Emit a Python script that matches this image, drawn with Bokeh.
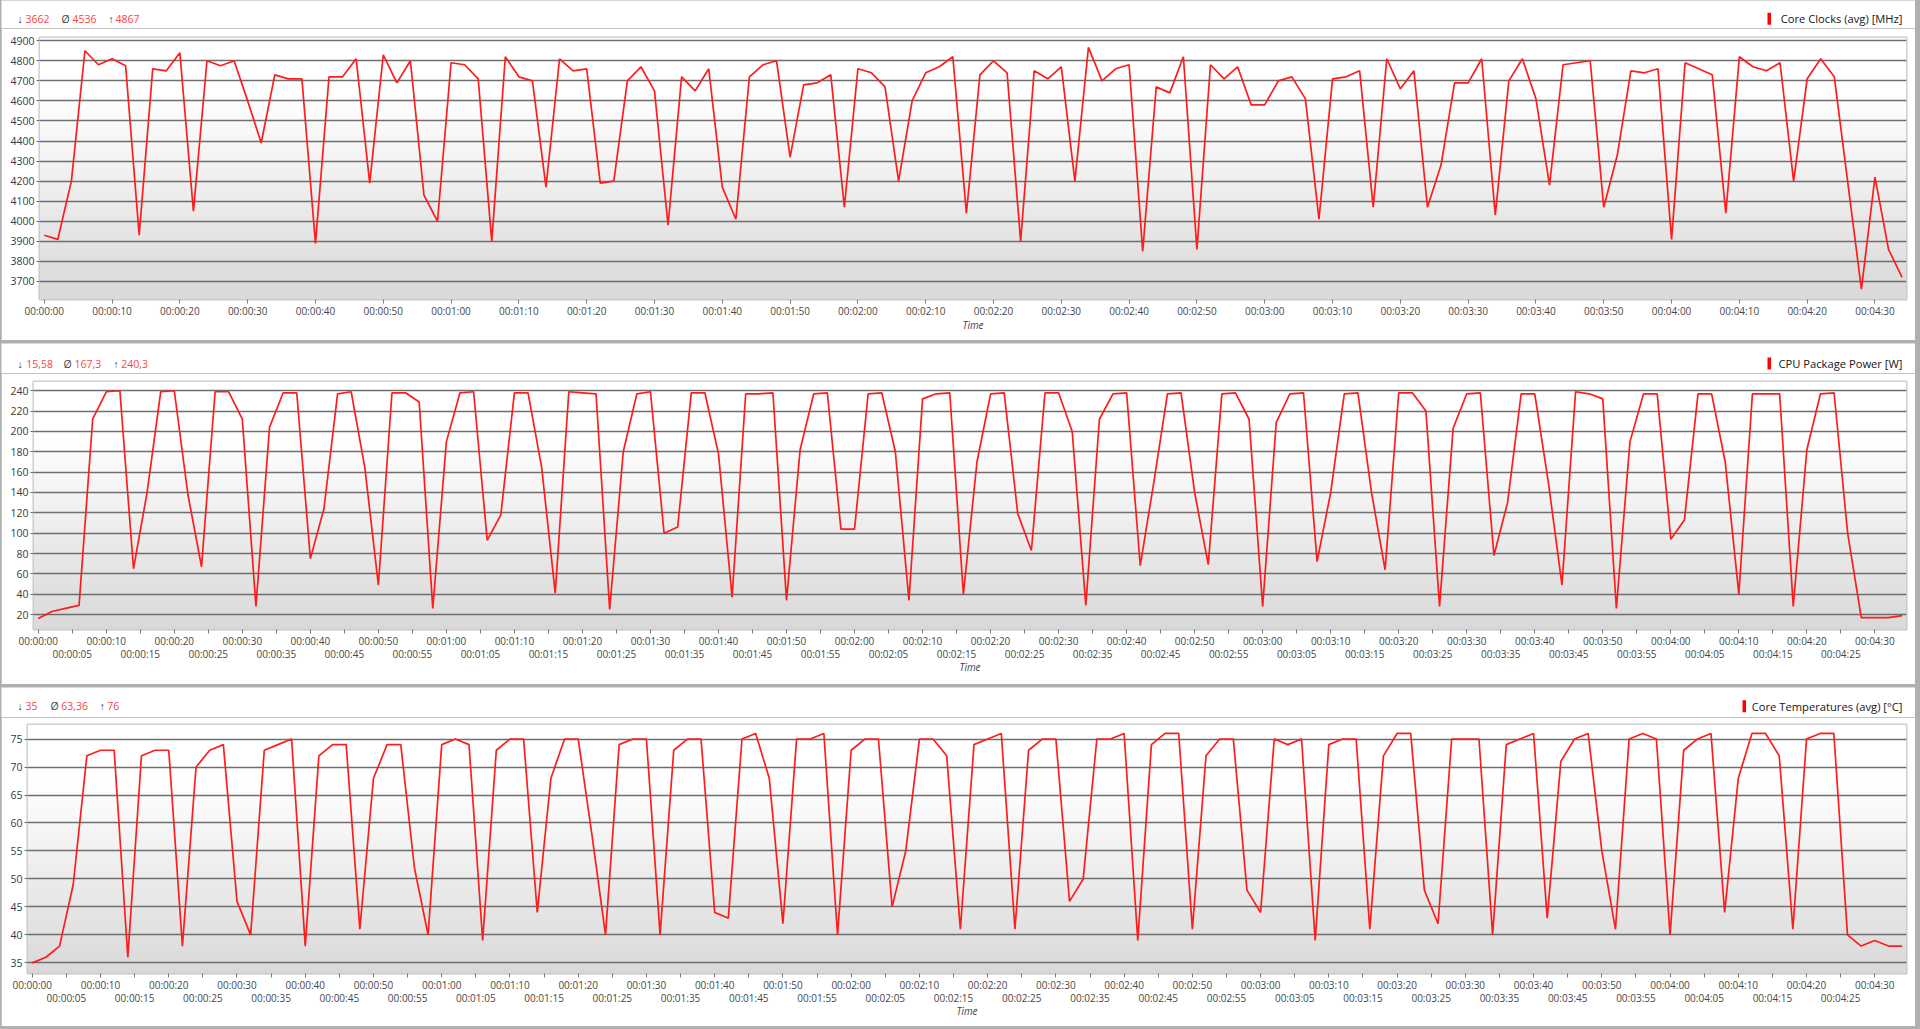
import numpy as np
from bokeh.plotting import figure
from bokeh.models import Range1d, FixedTicker, LinearAxis, Spacer
from bokeh.layouts import column, row
from bokeh.core.properties import value
from bokeh.embed import file_html
from bokeh.resources import INLINE

# ---------------- data ----------------
time_s = list(range(0, 276, 2))

core_clock_mhz = [
    3930, 3910, 4200, 4850, 4780, 4810, 4775, 3930, 4760, 4750,
    4840, 4050, 4800, 4775, 4800, 4600, 4390, 4730, 4710, 4710,
    3890, 4720, 4720, 4810, 4190, 4830, 4690, 4800, 4130, 4000,
    4790, 4780, 4710, 3900, 4820, 4720, 4700, 4170, 4810, 4750,
    4760, 4190, 4200, 4700, 4770, 4650, 3980, 4720, 4650, 4760,
    4170, 4010, 4720, 4780, 4800, 4320, 4680, 4690, 4730, 4070,
    4760, 4740, 4670, 4200, 4600, 4740, 4770, 4820, 4040, 4730,
    4800, 4740, 3900, 4750, 4710, 4770, 4200, 4867, 4700, 4760,
    4780, 3850, 4670, 4640, 4820, 3860, 4780, 4710, 4770, 4580,
    4580, 4700, 4720, 4610, 4010, 4710, 4720, 4750, 4070, 4810,
    4660, 4750, 4070, 4280, 4690, 4690, 4810, 4030, 4700, 4810,
    4610, 4180, 4780, 4790, 4800, 4070, 4330, 4750, 4740, 4760,
    3910, 4790, 4760, 4730, 4040, 4820, 4770, 4750, 4790, 4200,
    4710, 4810, 4720, 4190, 3662, 4220, 3860, 3720,
]

cpu_power_w = [
    16, 23, 26, 29, 212, 239, 240, 65, 140, 239,
    240, 138, 67, 239, 239, 212, 28, 204, 238, 238,
    75, 124, 237, 239, 165, 49, 238, 238, 229, 26,
    190, 238, 239, 93, 118, 238, 238, 165, 41, 239,
    238, 237, 25, 180, 237, 239, 100, 106, 238, 238,
    178, 37, 237, 237, 238, 34, 182, 237, 238, 104,
    104, 237, 238, 180, 34, 232, 237, 238, 40, 170,
    237, 238, 119, 83, 238, 238, 200, 29, 212, 237,
    238, 68, 150, 237, 238, 140, 69, 237, 238, 212,
    28, 209, 237, 238, 72, 140, 237, 238, 140, 64,
    238, 238, 220, 28, 203, 237, 238, 78, 130, 237,
    237, 150, 49, 239, 237, 232, 26, 190, 237, 237,
    94, 113, 237, 237, 170, 40, 237, 237, 237, 28,
    182, 237, 238, 100, 17, 17, 17, 19,
]

core_temp_c = [
    35, 36, 38, 49, 72, 73, 73, 36, 72, 73,
    73, 38, 70, 73, 74, 46, 40, 73, 74, 75,
    38, 72, 74, 74, 41, 68, 74, 74, 52, 40,
    74, 75, 74, 39, 73, 75, 75, 44, 68, 75,
    75, 58, 40, 74, 75, 75, 40, 73, 75, 75,
    44, 43, 75, 76, 68, 42, 75, 75, 76, 40,
    73, 75, 75, 45, 55, 75, 75, 72, 41, 74,
    75, 76, 41, 73, 75, 75, 46, 50, 75, 75,
    76, 39, 74, 76, 76, 41, 72, 75, 75, 48,
    44, 75, 74, 75, 39, 74, 75, 75, 41, 72,
    76, 76, 48, 42, 75, 75, 75, 40, 74, 75,
    76, 43, 71, 75, 76, 55, 41, 75, 76, 75,
    40, 73, 75, 76, 44, 68, 76, 76, 72, 41,
    75, 76, 76, 40, 38, 39, 38, 38,
]

clock_ticks = list(range(3700, 5000, 100))
power_ticks = list(range(20, 260, 20))
temp_ticks = list(range(35, 80, 5))

time_ticks_10s = list(range(0, 280, 10))
time_ticks_5s = list(range(5, 275, 10))


def hms(s):
    return f"{s // 3600:02d}:{s % 3600 // 60:02d}:{s % 60:02d}"


time_labels_10s = [hms(s) for s in time_ticks_10s]
time_labels_5s = [hms(s) for s in time_ticks_5s]

titles = ["Core Clocks (avg) [MHz]", "CPU Package Power [W]", "Core Temperatures (avg) [°C]"]
stats_min = ["3662", "15,58", "35"]
stats_avg = ["4536", "167,3", "63,36"]
stats_max = ["4867", "240,3", "76"]

# ---------------- style / layout ----------------
FONT = "Open Sans"
RED = "#ff1c1c"
NUM_RED = "#ff4343"
BORDER = "#b0b0b0"
LEFT_PAD = 1          # gray border on the left
FIG_W = 1914          # 1 + 1914 + 5 = 1920

panels = [
    dict(series=core_clock_mhz, yticks=clock_ticks, yr=(3610, 4916), h=340,
         head_h=28, frame_top=37, left=39, right=1906, frame_bottom=299, hy=18.3,
         two_rows=False, sx=[17, 25, 61, 72, 108, 115], bar=1767),
    dict(series=cpu_power_w, yticks=power_ticks, yr=(5.3, 249.1), h=341,
         head_h=30, frame_top=38, left=33, right=1906, frame_bottom=286, hy=20,
         two_rows=True, sx=[17, 25.7, 63, 74, 113, 120.7], bar=1767),
    dict(series=core_temp_c, yticks=temp_ticks, yr=(33.1, 77.6), h=339,
         head_h=30, frame_top=37, left=27, right=1906, frame_bottom=286, hy=18.7,
         two_rows=True, sx=[17, 25, 50, 60.7, 99.3, 106.7], bar=1742),
]


def gradient_image(n=256):
    g = np.empty(n, dtype=np.uint8)
    for i in range(n):
        ft = 1.0 - i / (n - 1)  # fraction from top
        g[i] = int(round(255 - 38 * min(max((ft - 0.22) / 0.78, 0.0), 1.0)))
    img = np.empty((n, 1), dtype=np.uint32)
    view = img.view(dtype=np.uint8).reshape((n, 1, 4))
    view[:, 0, 0] = g
    view[:, 0, 1] = g
    view[:, 0, 2] = g
    view[:, 0, 3] = 255
    return img


def no_frame_align(fig):
    try:
        fig.frame_align = False
    except Exception:
        pass


def style_text_axis(ax, size="10px", color="#474747"):
    ax.major_label_text_font = FONT
    ax.major_label_text_font_size = size
    ax.major_label_text_color = color


groups = []
for k, cfg in enumerate(panels):
    # ---------- header strip (stats + title) ----------
    hh = cfg["head_h"]
    hdr = figure(width=FIG_W, height=hh, x_range=Range1d(LEFT_PAD, LEFT_PAD + FIG_W),
                 y_range=Range1d(hh, 0), output_backend="svg", toolbar_location=None,
                 x_axis_type=None, y_axis_type=None, min_border=0,
                 min_border_left=0, min_border_right=0, min_border_top=0, min_border_bottom=0,
                 outline_line_color=None, border_fill_color="white",
                 background_fill_color="white")
    no_frame_align(hdr)
    hdr.grid.visible = False
    pieces = [("↓", "#444444"), (stats_min[k], NUM_RED), ("Ø", "#444444"),
              (stats_avg[k], NUM_RED), ("↑", "#444444"), (stats_max[k], NUM_RED)]
    hdr.text(x=cfg["sx"], y=[cfg["hy"]] * 6, text=[t for t, _ in pieces],
             text_color=[c for _, c in pieces], text_font=value(FONT),
             text_font_size="10.5px", text_baseline="middle", text_align="left")
    hdr.text(x=[1902], y=[cfg["hy"]], text=[titles[k]], text_color="#161616",
             text_font=value(FONT), text_font_size="11.2px",
             text_baseline="middle", text_align="right")
    hdr.quad(left=[cfg["bar"]], right=[cfg["bar"] + 3.5],
             top=[cfg["hy"] - 6], bottom=[cfg["hy"] + 6],
             fill_color="#ff0000", line_color=None)

    # ---------- chart ----------
    ch = cfg["h"] - hh
    x0, x1 = -0.7, 274.65
    y0, y1 = cfg["yr"]
    p = figure(width=FIG_W, height=ch,
               x_range=Range1d(x0, x1), y_range=Range1d(y0, y1),
               output_backend="svg", toolbar_location=None,
               min_border_left=cfg["left"] - LEFT_PAD,
               min_border_right=LEFT_PAD + FIG_W - cfg["right"],
               min_border_top=cfg["frame_top"] - hh,
               min_border_bottom=ch - (cfg["frame_bottom"] - hh),
               border_fill_color="white", background_fill_color="white",
               outline_line_color="#c6c6c6", outline_line_width=2)
    no_frame_align(p)

    p.image_rgba(image=[gradient_image()], x=x0, y=y0, dw=x1 - x0, dh=y1 - y0, level="image")

    ya = p.yaxis[0]
    ya.ticker = FixedTicker(ticks=cfg["yticks"])
    ya.axis_line_color = None
    ya.major_tick_out = 3
    ya.major_tick_in = 0
    ya.minor_tick_line_color = None
    ya.major_tick_line_color = "#6a6a6a"
    ya.major_label_standoff = 2
    style_text_axis(ya, "10.5px", "#3a3a3a")

    p.ygrid.grid_line_color = "#6e6e6e"
    p.ygrid.grid_line_width = 1.6
    p.xgrid.visible = False

    xa = p.xaxis[0]
    xa.axis_line_color = None
    xa.minor_tick_line_color = None
    xa.major_tick_in = 0
    xa.major_tick_out = 4
    xa.major_tick_line_color = "#7a7a7a"
    xa.major_label_standoff = 0
    style_text_axis(xa)
    if cfg["two_rows"]:
        all_ticks = sorted(time_ticks_10s + time_ticks_5s)
        xa.ticker = FixedTicker(ticks=all_ticks)
        ov = {t: lab for t, lab in zip(time_ticks_10s, time_labels_10s)}
        ov.update({t: "" for t in time_ticks_5s})
        xa.major_label_overrides = ov
        ax2 = LinearAxis(ticker=FixedTicker(ticks=time_ticks_5s),
                         major_label_overrides={t: lab for t, lab in zip(time_ticks_5s, time_labels_5s)})
        ax2.axis_line_color = None
        ax2.major_tick_line_color = None
        ax2.minor_tick_line_color = None
        ax2.major_tick_out = 0
        ax2.major_tick_in = 0
        ax2.major_label_standoff = -4
        style_text_axis(ax2)
        ax2.axis_label = "Time"
        ax2.axis_label_standoff = -4
        ax2.axis_label_text_font = FONT
        ax2.axis_label_text_font_size = "10px"
        ax2.axis_label_text_font_style = "italic"
        ax2.axis_label_text_color = "#444444"
        p.add_layout(ax2, "below")
    else:
        xa.ticker = FixedTicker(ticks=time_ticks_10s)
        xa.major_label_overrides = {t: lab for t, lab in zip(time_ticks_10s, time_labels_10s)}
        xa.axis_label = "Time"
        xa.axis_label_standoff = -3
        xa.axis_label_text_font = FONT
        xa.axis_label_text_font_size = "10px"
        xa.axis_label_text_font_style = "italic"
        xa.axis_label_text_color = "#444444"

    p.line(time_s, cfg["series"], line_color=RED, line_width=1.7)

    groups.append(column(row(hdr), p, spacing=0))

stack = column(*groups, Spacer(width=FIG_W, height=0), spacing=3,
               styles={"background-color": BORDER})
layout = row(Spacer(width=LEFT_PAD, height=1029), stack, Spacer(width=5, height=1029),
             spacing=0, styles={"background-color": BORDER})
open("out.html", "w").write(file_html(layout, INLINE))
